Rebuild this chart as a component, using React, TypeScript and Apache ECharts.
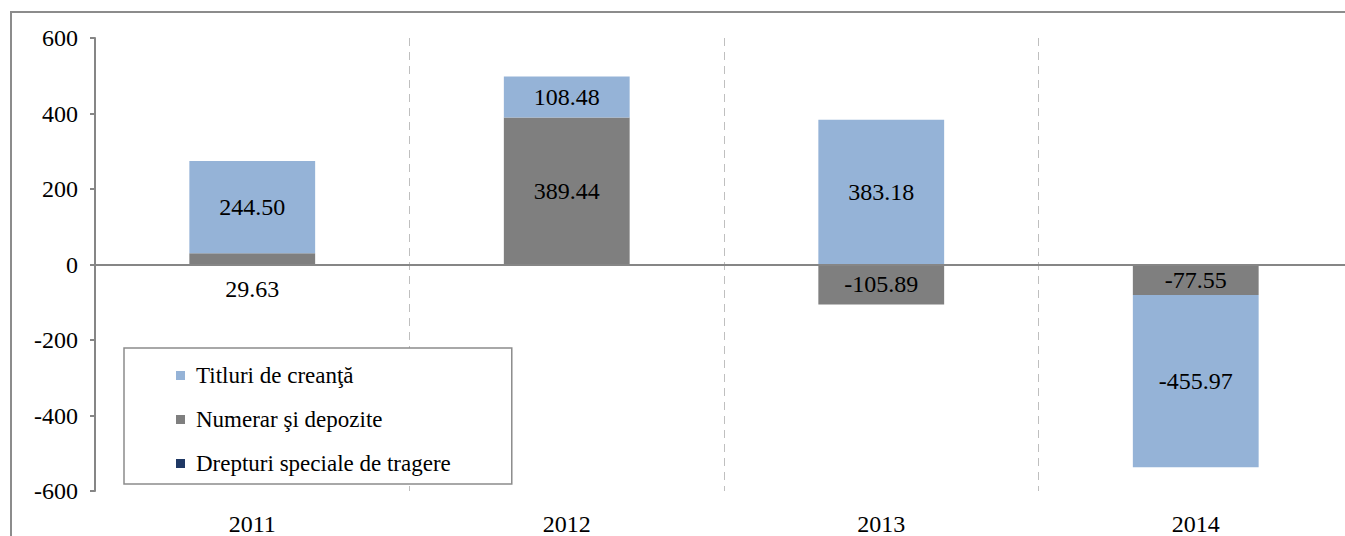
import React, { useEffect, useRef } from "react";
import * as echarts from "echarts";

const years = ["2011", "2012", "2013", "2014"];
const titluri = [244.5, 108.48, 383.18, -455.97];
const numerar = [29.63, 389.44, -105.89, -77.55];
const drepturi = [0, 0, 0, -3.5];
const yTicks = { min: -600, max: 600, interval: 200 };

const FONT = "'Liberation Serif', 'Times New Roman', serif";

export default function App() {
  const ref = useRef<HTMLDivElement>(null);
  useEffect(() => {
    if (!ref.current) return;
    const chart = echarts.init(ref.current, null, { renderer: "svg" });
    const labelStyle = { show: true, position: "inside", color: "#000", fontFamily: FONT, fontSize: 24 };
    chart.setOption({
      animation: false,
      backgroundColor: "#fff",
      textStyle: { fontFamily: FONT },
      grid: { left: 95, top: 38, bottom: 41, width: 1258 },
      legend: {
        orient: "vertical",
        left: 124,
        top: 348,
        data: ["Titluri de creanţă", "Numerar şi depozite", "Drepturi speciale de tragere"],
        backgroundColor: "#fff",
        borderColor: "#8c8c8c",
        borderWidth: 1.5,
        padding: [16, 61, 9, 52],
        itemWidth: 9,
        itemHeight: 9,
        itemGap: 21,
        icon: "rect",
        textStyle: { fontFamily: FONT, fontSize: 23, color: "#000", lineHeight: 20, padding: [0, 0, 0, 6] },
      },
      xAxis: {
        type: "category",
        data: years,
        axisLine: { show: false },
        axisTick: { show: false },
        axisLabel: { color: "#000", fontFamily: FONT, fontSize: 24, margin: 21 },
        splitLine: { show: true, lineStyle: { color: "#bfbfbf", type: [8, 6], width: 1 } },
      },
      yAxis: {
        type: "value",
        min: yTicks.min,
        max: yTicks.max,
        interval: yTicks.interval,
        axisLine: { show: true, lineStyle: { color: "#868686", width: 2 } },
        axisTick: { show: true, length: 5, lineStyle: { color: "#868686", width: 2 } },
        axisLabel: { color: "#000", fontFamily: FONT, fontSize: 24, margin: 17 },
        splitLine: { show: false },
      },
      series: [
        {
          name: "Drepturi speciale de tragere",
          type: "bar",
          stack: "s",
          barCategoryGap: "60%",
          itemStyle: { color: "#1f3864" },
          data: drepturi,
          markLine: {
            silent: true,
            symbol: "none",
            label: { show: false },
            lineStyle: { color: "#868686", width: 2, type: "solid" },
            data: [{ yAxis: 0 }],
          },
        },
        {
          name: "Numerar şi depozite",
          type: "bar",
          stack: "s",
          barCategoryGap: "60%",
          itemStyle: { color: "#7f7f7f" },
          label: { ...labelStyle, formatter: (p: any) => p.value.toFixed(2) },
          data: numerar.map((v, i) =>
            i === 0 ? { value: v, label: { position: "bottom", distance: 12 } } : v
          ),
        },
        {
          name: "Titluri de creanţă",
          type: "bar",
          stack: "s",
          barCategoryGap: "60%",
          itemStyle: { color: "#95b3d7" },
          label: { ...labelStyle, formatter: (p: any) => p.value.toFixed(2) },
          data: titluri,
        },
      ],
      graphic: [
        {
          type: "rect",
          shape: { x: 11, y: 12, width: 1400, height: 600 },
          style: { fill: "none", stroke: "#8c8c8c", lineWidth: 2 },
          silent: true,
          z: -1,
        },
      ],
    });
    return () => chart.dispose();
  }, []);
  return <div ref={ref} style={{ position: "fixed", left: 0, top: 0, width: 1365, height: 536 }} />;
}
